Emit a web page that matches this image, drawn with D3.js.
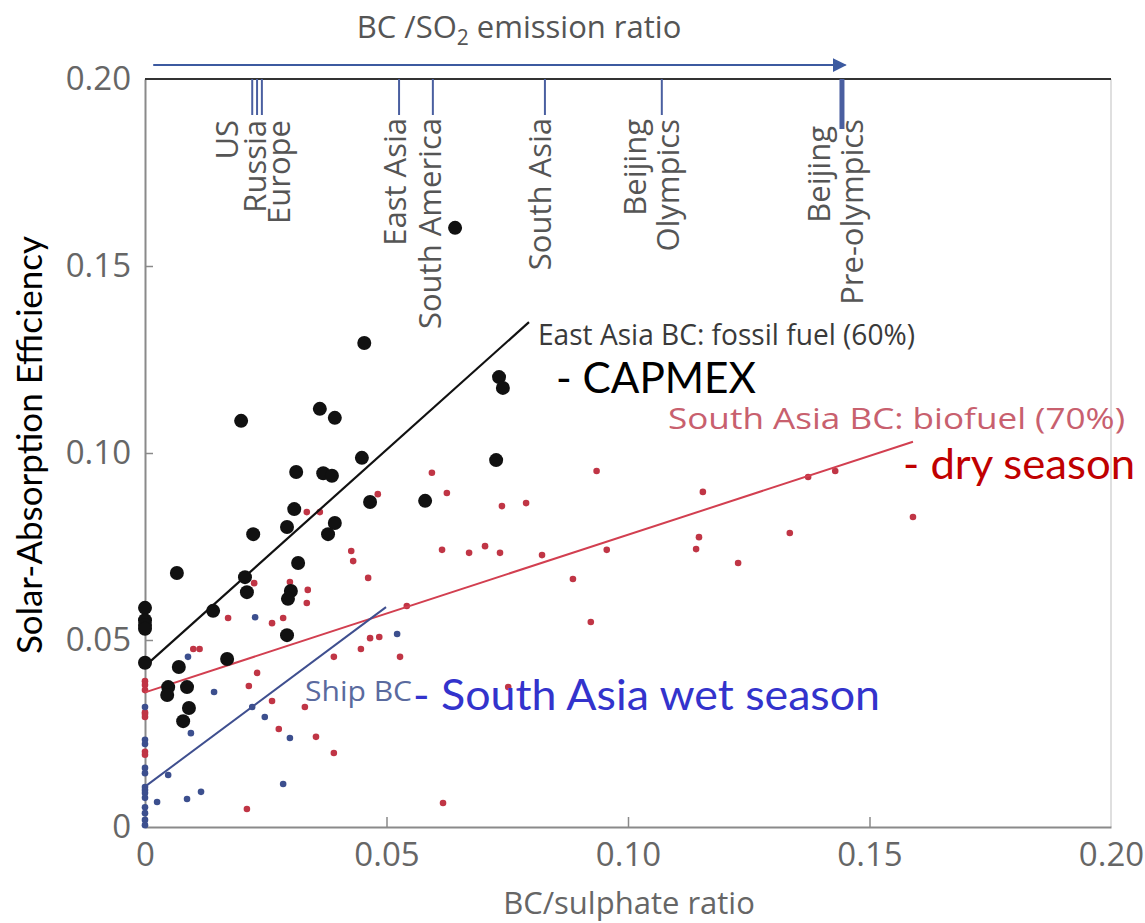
<!DOCTYPE html>
<html>
<head>
<meta charset="utf-8">
<script src="https://cdn.jsdelivr.net/npm/d3@7"></script>
<style>
  html, body { margin: 0; padding: 0; background: #fff; }
  svg { display: block; }
</style>
</head>
<body>
<svg id="chart" width="1145" height="923"></svg>
<script>
// ---------------- DATA ----------------
const xTicks = [0, 0.05, 0.10, 0.15, 0.20];
const yTicks = [0, 0.05, 0.10, 0.15, 0.20];

// East Asia (CAPMEX) large black points
const eastAsiaX = [0.0642,0.0454,0.0733,0.0741,0.0362,0.0199,0.0393,0.0449,0.0727,0.0313,
  0.0369,0.0387,0.0466,0.0580,0.0309,0.0294,0.0393,0.0379,0.0224,0.0317,
  0.0066,0.0207,0.0211,0.0302,0.0296,0.0141,0,0,0,0,
  0,0.0294,0.0070,0.0170,0.0048,0.0046,0.0087,0.0091,0.0079];
const eastAsiaY = [0.1602,0.1294,0.1203,0.1174,0.1118,0.1086,0.1094,0.0987,0.0981,0.0949,
  0.0946,0.0939,0.0869,0.0872,0.0850,0.0802,0.0813,0.0783,0.0783,0.0706,
  0.0679,0.0668,0.0628,0.0631,0.0610,0.0578,0.0586,0.0553,0.0540,0.0530,
  0.0439,0.0513,0.0428,0.0449,0.0374,0.0353,0.0374,0.0318,0.0283];

// South Asia dry season (red)
const southDryX = [0.0482,0.0594,0.0625,0.0739,0.0789,0.0427,0.0431,0.0462,0.0615,0.0671,
  0.0704,0.0735,0.0822,0.0335,0.0362,0.0226,0.0300,0.0337,0.0335,0.0172,
  0.0286,0.0263,0.0100,0.0113,0.0232,0.0215,0.0263,0.0331,0.0277,0.0354,
  0.0391,0.0211,0.0391,0.0447,0.0466,0.0485,0.0528,0.0542,0.0617,0.0752,
  0.0935,0.1155,0.1373,0.1429,0.1590,0.1335,0.1147,0.1141,0.1228,0.0956,
  0.0886,0.0923,0,0,0,0,0,0,0,0];
const southDryY = [0.0890,0.0947,0.0893,0.0858,0.0866,0.0738,0.0711,0.0666,0.0741,0.0733,
  0.0751,0.0733,0.0727,0.0842,0.0842,0.0652,0.0655,0.0634,0.0599,0.0559,
  0.0559,0.0545,0.0476,0.0476,0.0412,0.0377,0.0337,0.0321,0.0262,0.0241,
  0.0198,0.0048,0.0455,0.0476,0.0505,0.0508,0.0455,0.0591,0.0064,0.0374,
  0.0952,0.0896,0.0936,0.0952,0.0829,0.0786,0.0775,0.0743,0.0706,0.0741,
  0.0663,0.0548,0.0390,0.0380,0.0366,0.0307,0.0302,0.0294,0.0201,0.0193];

// Ship / South Asia wet season (blue)
const shipX = [0.0228,0.0089,0.0143,0.0222,0.0248,0.0300,0.0095,0.0048,0.0286,0.0116,
  0.0087,0.0025,0.0522,0,0,0,0,0,0,0,
  0,0,0,0,0,0];
const shipY = [0.0561,0.0455,0.0361,0.0321,0.0294,0.0238,0.0251,0.0139,0.0115,0.0094,
  0.0075,0.0067,0.0516,0.0321,0.0233,0.0222,0.0158,0.0144,0.0107,0.0099,
  0.0091,0.0078,0.0053,0.0037,0.0019,0.0005];

// Fit lines [x, y] end points
const eastAsiaFit = [[0, 0.043], [0.0795, 0.135]];
const southDryFit = [[0, 0.036], [0.159, 0.103]];
const shipFit     = [[0, 0.0108], [0.0499, 0.0588]];

// BC/SO2 emission ratio markers (positions on the BC/sulphate axis)
const emissionLabels = [["US"],["Russia"],["Europe"],["East Asia"],["South America"],
  ["South Asia"],["Beijing","Olympics"],["Beijing","Pre-olympics"]];
const emissionPos = [0.0222, 0.0232, 0.0242, 0.0526, 0.0596, 0.0828, 0.1070, 0.1443];

// ---------------- LAYOUT / STYLE ----------------
const labelShift = [-14, 9, 28, 7, 8, 6, -16, -12];   // px, baseline offset of first line
const labelTop   = [120, 120, 120, 118, 118, 118, 119, 126];
const svg = d3.select("#chart");
const fontFig = "'Open Sans', 'DejaVu Sans', sans-serif";
const fontAnn = "Lato, 'Open Sans', sans-serif";

const x = d3.scaleLinear().domain([0, 0.2]).range([145, 1111]);
const y = d3.scaleLinear().domain([0, 0.2]).range([827, 79]);

// right frame line
svg.append("line").attr("x1", x(0.2)).attr("x2", x(0.2)).attr("y1", y(0.2)).attr("y2", y(0))
  .attr("stroke", "#d4d4d4").attr("stroke-width", 1.5);

const fmt = d => d === 0 ? "0" : d3.format(".2f")(d);

// bottom axis
const gx = svg.append("g").attr("transform", `translate(0,${y(0)})`)
  .call(d3.axisBottom(x).tickValues(xTicks).tickFormat(fmt).tickSizeInner(-10).tickSizeOuter(0).tickPadding(16));
gx.select(".domain").attr("stroke", "#8a8a8a").attr("stroke-width", 2);
gx.selectAll(".tick line").attr("stroke", "#8a8a8a").attr("stroke-width", 1.5)
  .attr("opacity", d => (d === 0 || d === 0.2) ? 0 : 1);
gx.selectAll(".tick text").attr("font-family", fontFig).attr("font-size", 33).attr("fill", "#666");

// left axis
const gy = svg.append("g").attr("transform", `translate(${x(0)},0)`)
  .call(d3.axisLeft(y).tickValues(yTicks).tickFormat(fmt).tickSizeInner(-8).tickSizeOuter(0).tickPadding(14));
gy.select(".domain").attr("stroke", "#8a8a8a").attr("stroke-width", 2);
gy.selectAll(".tick line").attr("stroke", "#8a8a8a").attr("stroke-width", 1.5)
  .attr("opacity", d => (d === 0 || d === 0.2) ? 0 : 1);
gy.selectAll(".tick text").attr("font-family", fontFig).attr("font-size", 33).attr("fill", "#666");

// top line at 0.20
svg.append("line").attr("x1", x(0)).attr("x2", x(0.2)).attr("y1", y(0.2)).attr("y2", y(0.2))
  .attr("stroke", "#333").attr("stroke-width", 2);

// emission ratio arrow
svg.append("defs").append("marker").attr("id", "arr").attr("viewBox", "0 0 10 10")
  .attr("refX", 9).attr("refY", 5).attr("markerWidth", 14).attr("markerHeight", 14)
  .attr("markerUnits", "userSpaceOnUse").attr("orient", "auto")
  .append("path").attr("d", "M0,0 L10,5 L0,10 z").attr("fill", "#3c5aa0");
svg.append("line").attr("x1", x(0.0017)).attr("x2", x(0.1450)).attr("y1", 65).attr("y2", 65)
  .attr("stroke", "#3c5aa0").attr("stroke-width", 2).attr("marker-end", "url(#arr)");

// emission title
const title = svg.append("text").attr("x", 519).attr("y", 38).attr("text-anchor", "middle")
  .attr("font-family", fontFig).attr("font-size", 31).attr("fill", "#555");
title.append("tspan").text("BC /SO");
title.append("tspan").text("2").attr("font-size", 21).attr("dy", 7);
title.append("tspan").text(" emission ratio").attr("dy", -7);

// emission tick lines and labels
emissionPos.forEach((p, i) => {
  const last = i === emissionPos.length - 1;
  svg.append("line").attr("x1", x(p)).attr("x2", x(p)).attr("y1", y(0.2)).attr("y2", y(0.2) + (last ? 50 : 36))
    .attr("stroke", "#4a5fa0").attr("stroke-width", last ? 5 : 2);
  emissionLabels[i].forEach((t, j) => {
    svg.append("text")
      .attr("transform", `translate(${x(p) + labelShift[i] + j * 33},${labelTop[i] - (j > 0 && last ? 7 : 0)}) rotate(-90)`)
      .attr("text-anchor", "end").attr("font-family", fontFig).attr("font-size", 31).attr("fill", "#555")
      .text(t);
  });
});

// small points
svg.append("g").selectAll("circle").data(d3.range(southDryX.length)).join("circle")
  .attr("cx", i => x(southDryX[i])).attr("cy", i => y(southDryY[i])).attr("r", 3.3).attr("fill", "#c03545");
svg.append("g").selectAll("circle").data(d3.range(shipX.length)).join("circle")
  .attr("cx", i => x(shipX[i])).attr("cy", i => y(shipY[i])).attr("r", 3.3).attr("fill", "#3c4f8e");

// fit lines
const line = d3.line().x(d => x(d[0])).y(d => y(d[1]));
svg.append("path").attr("d", line(southDryFit)).attr("stroke", "#d23f50").attr("stroke-width", 2).attr("fill", "none");
svg.append("path").attr("d", line(shipFit)).attr("stroke", "#3f4f8f").attr("stroke-width", 2).attr("fill", "none");
svg.append("path").attr("d", line(eastAsiaFit)).attr("stroke", "#111").attr("stroke-width", 2.2).attr("fill", "none");

// large black points
svg.append("g").selectAll("circle").data(d3.range(eastAsiaX.length)).join("circle")
  .attr("cx", i => x(eastAsiaX[i])).attr("cy", i => y(eastAsiaY[i])).attr("r", 7).attr("fill", "#111");

// annotations
function ann(t, xx, yy, size, color, font, width) {
  const el = svg.append("text").attr("x", xx).attr("y", yy).attr("font-family", font)
    .attr("font-size", size).attr("fill", color).text(t);
  if (width) el.attr("textLength", width).attr("lengthAdjust", "spacingAndGlyphs");
  return el;
}
ann("East Asia BC: fossil fuel (60%)", 538, 345, 29, "#3a3a3a", fontFig, 377);
ann("- CAPMEX", 556, 393, 43, "#000", fontAnn, 200);
ann("South Asia BC: biofuel (70%)", 668, 429, 29, "#c8606e", fontFig, 457);
ann("- dry season", 903, 479, 43, "#c00000", fontAnn, 232);
ann("Ship BC", 305, 701, 28, "#5a6a9e", fontFig, 107);
ann("- South Asia wet season", 413, 710, 43, "#3333cc", fontAnn, 467);

// axis titles
svg.append("text").attr("x", 629).attr("y", 914).attr("text-anchor", "middle")
  .attr("font-family", fontFig).attr("font-size", 31).attr("fill", "#666").text("BC/sulphate ratio");
svg.append("text").attr("transform", "translate(42,445) rotate(-90)").attr("text-anchor", "middle")
  .attr("font-family", fontAnn).attr("font-size", 35).attr("fill", "#000").text("Solar-Absorption Efficiency");
</script>
</body>
</html>
